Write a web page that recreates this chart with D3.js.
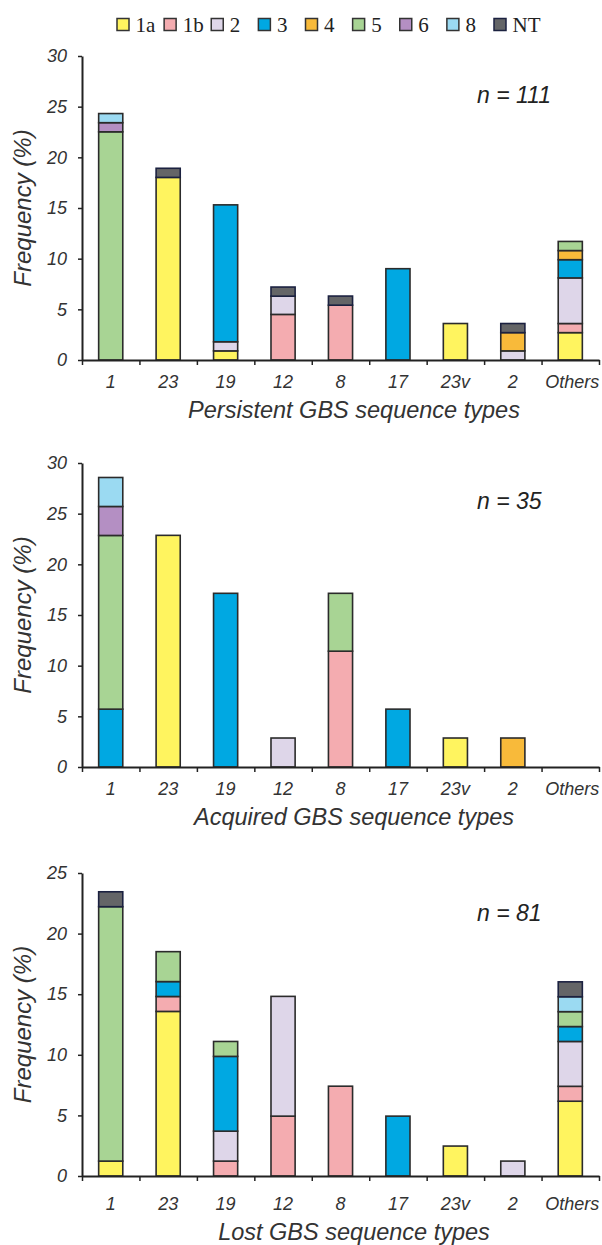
<!DOCTYPE html>
<html><head><meta charset="utf-8">
<script src="https://cdn.jsdelivr.net/npm/d3@7/dist/d3.min.js"></script>
<style>body{margin:0;background:#fff}svg{display:block}</style>
</head><body>
<svg id="c" width="602" height="1245"></svg>
<script>
const categories = ['1','23','19','12','8','17','23v','2','Others'];
const serotypes = ['1a','1b','2','3','4','5','6','8','NT'];
const colors = ['#FFF45F','#F4ACB0','#DED6E9','#00A8E2','#F8BA3A','#A8D494','#B48FC3','#9BDAF2','#646567'];

// Persistent (n = 111), % per serotype across categories
const persistent_1a = [0, 18.02, 0.90, 0, 0, 0, 3.60, 0, 2.70];
const persistent_1b = [0, 0, 0, 4.50, 5.41, 0, 0, 0, 0.90];
const persistent_2  = [0, 0, 0.90, 1.80, 0, 0, 0, 0.90, 4.50];
const persistent_3  = [0, 0, 13.51, 0, 0, 9.01, 0, 0, 1.80];
const persistent_4  = [0, 0, 0, 0, 0, 0, 0, 1.80, 0.90];
const persistent_5  = [22.52, 0, 0, 0, 0, 0, 0, 0, 0.90];
const persistent_6  = [0.90, 0, 0, 0, 0, 0, 0, 0, 0];
const persistent_8  = [0.90, 0, 0, 0, 0, 0, 0, 0, 0];
const persistent_NT = [0, 0.90, 0, 0.90, 0.90, 0, 0, 0.90, 0];

// Acquired (n = 35)
const acquired_1a = [0, 22.86, 0, 0, 0, 0, 2.86, 0, 0];
const acquired_1b = [0, 0, 0, 0, 11.43, 0, 0, 0, 0];
const acquired_2  = [0, 0, 0, 2.86, 0, 0, 0, 0, 0];
const acquired_3  = [5.71, 0, 17.14, 0, 0, 5.71, 0, 0, 0];
const acquired_4  = [0, 0, 0, 0, 0, 0, 0, 2.86, 0];
const acquired_5  = [17.14, 0, 0, 0, 5.71, 0, 0, 0, 0];
const acquired_6  = [2.86, 0, 0, 0, 0, 0, 0, 0, 0];
const acquired_8  = [2.86, 0, 0, 0, 0, 0, 0, 0, 0];
const acquired_NT = [0, 0, 0, 0, 0, 0, 0, 0, 0];

// Lost (n = 81)
const lost_1a = [1.23, 13.58, 0, 0, 0, 0, 2.47, 0, 6.17];
const lost_1b = [0, 1.23, 1.23, 4.94, 7.41, 0, 0, 0, 1.23];
const lost_2  = [0, 0, 2.47, 9.88, 0, 0, 0, 1.23, 3.70];
const lost_3  = [0, 1.23, 6.17, 0, 0, 4.94, 0, 0, 1.23];
const lost_4  = [0, 0, 0, 0, 0, 0, 0, 0, 0];
const lost_5  = [20.99, 2.47, 1.23, 0, 0, 0, 0, 0, 1.23];
const lost_6  = [0, 0, 0, 0, 0, 0, 0, 0, 0];
const lost_8  = [0, 0, 0, 0, 0, 0, 0, 0, 1.23];
const lost_NT = [1.23, 0, 0, 0, 0, 0, 0, 0, 1.23];

const yTicks30 = [0, 5, 10, 15, 20, 25, 30];
const yTicks25 = [0, 5, 10, 15, 20, 25];
const xTitles = ['Persistent GBS sequence types', 'Acquired GBS sequence types', 'Lost GBS sequence types'];
const nLabels = ['n = 111', 'n = 35', 'n = 81'];

const panels = [
  {series:[persistent_1a,persistent_1b,persistent_2,persistent_3,persistent_4,persistent_5,persistent_6,persistent_8,persistent_NT],
   max:30, ticks:yTicks30, top:56, base:360, lab:388, tit:418, nY:103},
  {series:[acquired_1a,acquired_1b,acquired_2,acquired_3,acquired_4,acquired_5,acquired_6,acquired_8,acquired_NT],
   max:30, ticks:yTicks30, top:463, base:767, lab:795, tit:825, nY:509},
  {series:[lost_1a,lost_1b,lost_2,lost_3,lost_4,lost_5,lost_6,lost_8,lost_NT],
   max:25, ticks:yTicks25, top:873, base:1176, lab:1210, tit:1240, nY:921}
];

const svg = d3.select('#c');
const X0 = 82, X1 = 599;
const colorScale = d3.scaleOrdinal().domain(serotypes).range(colors);

// Legend
const lx = d3.scalePoint().domain(serotypes).range([117, 494]);
const leg = svg.append('g');
serotypes.forEach(s => {
  const g = leg.append('g').attr('transform', `translate(${lx(s)},0)`);
  g.append('rect').attr('x',0).attr('y',18.5).attr('width',12).attr('height',12)
    .attr('fill', colorScale(s)).attr('stroke', s==='NT' ? '#1b2140' : '#333').attr('stroke-width',1.5);
  g.append('text').attr('x',18.5).attr('y',31.5).text(s)
    .attr('font-family','"Liberation Serif", serif').attr('font-size',21).attr('fill','#222');
});

panels.forEach((p, pi) => {
  const g = svg.append('g');
  const x = d3.scaleBand().domain(categories).range([X0, X1]).paddingInner(0.58).paddingOuter(0.29);
  const y = d3.scaleLinear().domain([0, p.max]).range([p.base, p.top]);

  const rows = categories.map((c, i) => {
    const r = {cat: c};
    serotypes.forEach((s, k) => r[s] = p.series[k][i]);
    return r;
  });
  const stacked = d3.stack().keys(serotypes)(rows);

  stacked.forEach(layer => {
    g.append('g').selectAll('rect')
      .data(layer.filter(d => d[1] - d[0] > 0))
      .join('rect')
      .attr('x', d => x(d.data.cat))
      .attr('width', x.bandwidth())
      .attr('y', d => y(d[1]))
      .attr('height', d => y(d[0]) - y(d[1]))
      .attr('fill', colorScale(layer.key))
      .attr('stroke', layer.key === 'NT' ? '#1b2140' : '#2b2b2b')
      .attr('stroke-width', 1.6);
  });

  // Y axis
  const ya = g.append('g').attr('transform', `translate(${X0},0)`)
    .call(d3.axisLeft(y).tickValues(p.ticks).tickSize(4).tickSizeOuter(0).tickPadding(11));
  ya.select('.domain').attr('stroke','#222').attr('stroke-width',2);
  ya.selectAll('.tick line').attr('stroke','#222').attr('stroke-width',1.5);
  ya.selectAll('.tick text').attr('font-family','"Liberation Sans", Arial, sans-serif')
    .attr('font-style','italic').attr('font-size',18).attr('fill','#333');

  // X axis: boundaries ticks
  const xb = d3.scaleLinear().domain([0, categories.length]).range([X0, X1]);
  const xa = g.append('g').attr('transform', `translate(0,${p.base})`)
    .call(d3.axisBottom(xb).tickValues(d3.range(categories.length + 1)).tickSize(5).tickSizeOuter(0).tickFormat(''));
  xa.select('.domain').attr('stroke','#222').attr('stroke-width',2);
  xa.selectAll('.tick line').attr('stroke','#222').attr('stroke-width',1.5);

  // Category labels
  g.append('g').selectAll('text').data(categories).join('text')
    .attr('x', d => x(d) + x.bandwidth()/2 + (d === 'Others' ? 2 : 0))
    .attr('y', p.lab)
    .attr('text-anchor','middle')
    .attr('font-family','"Liberation Sans", Arial, sans-serif')
    .attr('font-style','italic').attr('font-size',18).attr('fill','#333')
    .text(d => d);

  // X title
  g.append('text').attr('x', 354).attr('y', p.tit).attr('text-anchor','middle')
    .attr('font-family','"Liberation Sans", Arial, sans-serif')
    .attr('font-style','italic').attr('font-size',23.5).attr('fill','#333')
    .text(xTitles[pi]);

  // Y title
  g.append('text').attr('transform', `translate(31,${(p.top + p.base)/2}) rotate(-90)`)
    .attr('text-anchor','middle')
    .attr('font-family','"Liberation Sans", Arial, sans-serif')
    .attr('font-style','italic').attr('font-size',24).attr('fill','#333')
    .text('Frequency (%)');

  // n label
  g.append('text').attr('x', 477).attr('y', p.nY)
    .attr('font-family','"Liberation Sans", Arial, sans-serif')
    .attr('font-style','italic').attr('font-size',23).attr('fill','#222')
    .text(nLabels[pi]);
});
</script>
</body></html>
